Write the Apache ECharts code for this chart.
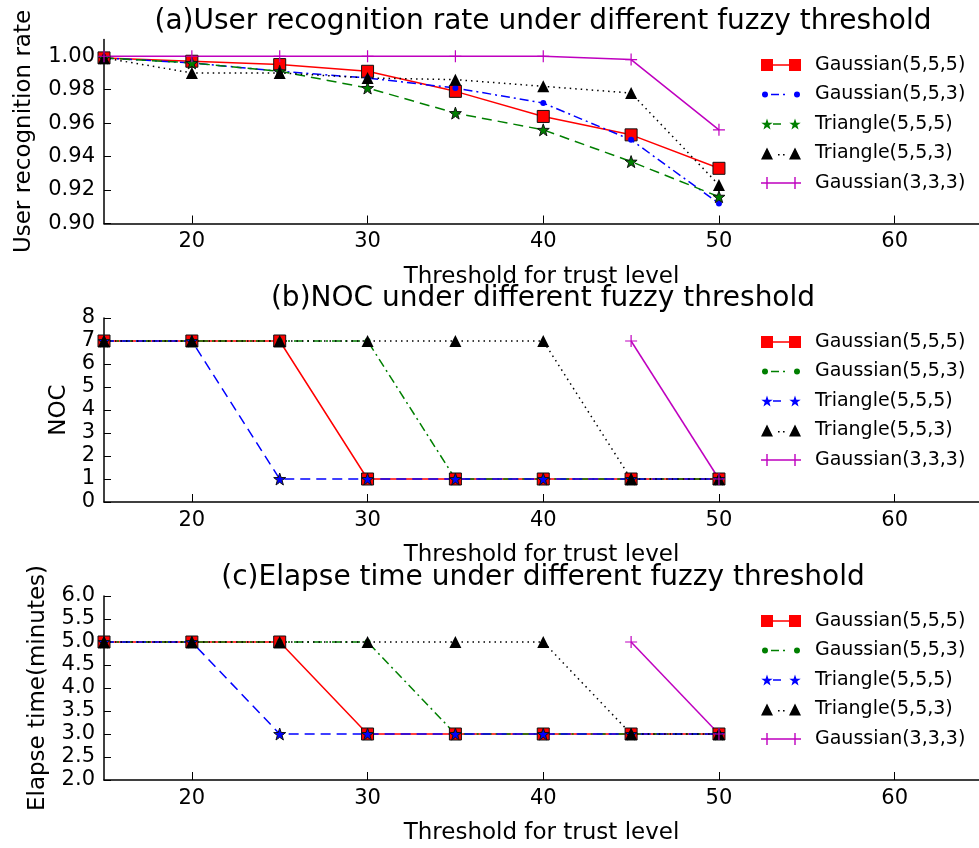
<!DOCTYPE html>
<html>
<head>
<meta charset="utf-8">
<title>Fuzzy threshold</title>
<script src="https://cdn.jsdelivr.net/npm/echarts@6/dist/echarts.min.js"></script>
<style>
  html, body { margin: 0; padding: 0; background: #fff; }
  #chart { width: 979px; height: 848px; }
</style>
</head>
<body>
<div id="chart"></div>
<script>
// x values shared by the three panels
const thresholds = [15, 20, 25, 30, 35, 40, 45, 50];
const xTicks = [20, 30, 40, 50, 60];

// (a) user recognition rate
const rateG555 = [0.999, 0.997, 0.995, 0.991, 0.979, 0.964, 0.953, 0.933];
const rateG553 = [0.999, 0.996, 0.991, 0.987, 0.981, 0.972, 0.950, 0.912];
const rateT555 = [0.999, 0.996, 0.991, 0.981, 0.966, 0.956, 0.937, 0.916];
const rateT553 = [0.999, 0.990, 0.990, 0.987, 0.986, 0.982, 0.978, 0.923];
const rateG333 = [1.000, 1.000, 1.000, 1.000, 1.000, 1.000, 0.998, 0.956];
const rateTicks = [0.90, 0.92, 0.94, 0.96, 0.98, 1.00];

// (b) NOC
const nocG555 = [7, 7, 7, 1, 1, 1, 1, 1];
const nocG553 = [7, 7, 7, 7, 1, 1, 1, 1];
const nocT555 = [7, 7, 1, 1, 1, 1, 1, 1];
const nocT553 = [7, 7, 7, 7, 7, 7, 1, 1];
const nocG333 = [null, null, null, null, null, null, 7, 1];

// (c) elapse time (minutes)
const timeG555 = [5, 5, 5, 3, 3, 3, 3, 3];
const timeG553 = [5, 5, 5, 5, 3, 3, 3, 3];
const timeT555 = [5, 5, 3, 3, 3, 3, 3, 3];
const timeT553 = [5, 5, 5, 5, 5, 5, 3, 3];
const timeG333 = [null, null, null, null, null, null, 5, 3];

const names = ['Gaussian(5,5,5)', 'Gaussian(5,5,3)', 'Triangle(5,5,5)', 'Triangle(5,5,3)', 'Gaussian(3,3,3)'];
const titles = [
  '(a)User recognition rate under different fuzzy threshold',
  '(b)NOC under different fuzzy threshold',
  '(c)Elapse time under different fuzzy threshold'
];

const FONT = 'DejaVu Sans';
const RED = '#ff0000', BLUE = '#0000ff', GREEN = '#007f00', BLACK = '#000000', MAGENTA = '#bf00bf';

function starPath(cx, cy, r) {
  let d = '';
  for (let k = 0; k < 10; k++) {
    const a = -Math.PI / 2 + k * Math.PI / 5;
    const rr = k % 2 ? r * 0.4 : r;
    d += (k ? 'L' : 'M') + (cx + rr * Math.cos(a)).toFixed(3) + ',' + (cy + rr * Math.sin(a)).toFixed(3);
  }
  return d + 'Z';
}

const STAR = 'path://' + starPath(0, 0, 6);
const PLUS = 'path://M-0.6,-6h1.2v5.4h5.4v1.2h-5.4v5.4h-1.2v-5.4h-5.4v-1.2h5.4z';

// legend icons: two markers joined by a bit of the line (matplotlib style)
const icSquare = 'path://M0,0h12v12h-12z M28,0h12v12h-12z M12,5.3h16v1.4h-16z M49,12';
const icDot = 'path://M0,0 M1,6a3,3 0 1,0 6,0a3,3 0 1,0 -6,0z M33,6a3,3 0 1,0 6,0a3,3 0 1,0 -6,0z M10,5.3h8v1.4h-8z M22,5.3h2v1.4h-2z M49,12';
const icStar = 'path://M0,0 ' + starPath(6, 6.6, 6) + ' ' + starPath(34, 6.6, 6) + ' M12,5.3h8v1.4h-8z M49,12';
const icTri = 'path://M0,12L6,0L12,12z M28,12L34,0L40,12z M17,6.5h1.6v1.6h-1.6z M22,6.5h1.6v1.6h-1.6z M49,12';
const icPlus = 'path://M0,5.3h40v1.4h-40z M5.3,0h1.4v12h-1.4z M33.3,0h1.4v12h-1.4z M49,12';

// panel layout
const gridTops = [39.5, 318, 596];
const gridH = 184;

function pts(ys) {
  return thresholds.map((x, i) => [x, ys[i]]).filter(p => p[1] !== null);
}

function line(name, ys, gi, color, dash, symbol, size, edge) {
  return {
    type: 'line', name, xAxisIndex: gi, yAxisIndex: gi,
    data: pts(ys),
    symbol, symbolSize: size, showSymbol: true, showAllSymbol: true,
    lineStyle: { color, width: 1.5, type: dash },
    itemStyle: { color, borderColor: edge ? '#111' : color, borderWidth: edge ? 1 : 0 },
    emphasis: { disabled: true },
    animation: false
  };
}

const DASH = [10, 6], DASHDOT = [9, 4, 2, 4], DOTTED = [1.5, 4];

const series = [
  line(names[0], rateG555, 0, RED, 'solid', 'rect', 12, true),
  line(names[1], rateG553, 0, BLUE, DASHDOT, 'circle', 6, false),
  line(names[2], rateT555, 0, GREEN, DASH, STAR, 12, true),
  line(names[3], rateT553, 0, BLACK, DOTTED, 'triangle', 12, false),
  line(names[4], rateG333, 0, MAGENTA, 'solid', PLUS, 12, false),

  line(names[0], nocG555, 1, RED, 'solid', 'rect', 12, true),
  line(names[1], nocG553, 1, GREEN, DASHDOT, 'circle', 6, false),
  line(names[2], nocT555, 1, BLUE, DASH, STAR, 12, true),
  line(names[3], nocT553, 1, BLACK, DOTTED, 'triangle', 12, false),
  line(names[4], nocG333, 1, MAGENTA, 'solid', PLUS, 12, false),

  line(names[0], timeG555, 2, RED, 'solid', 'rect', 12, true),
  line(names[1], timeG553, 2, GREEN, DASHDOT, 'circle', 6, false),
  line(names[2], timeT555, 2, BLUE, DASH, STAR, 12, true),
  line(names[3], timeT553, 2, BLACK, DOTTED, 'triangle', 12, false),
  line(names[4], timeG333, 2, MAGENTA, 'solid', PLUS, 12, false)
];

const axisLine = { show: true, onZero: false, lineStyle: { color: '#000', width: 1.5 } };

function xAxis(gi, nameGap) {
  return {
    type: 'value', gridIndex: gi, min: 15, max: 64.8,
    name: 'Threshold for trust level', nameLocation: 'middle', nameGap,
    nameTextStyle: { fontSize: 23, color: '#000', fontFamily: FONT },
    axisLine,
    axisTick: { show: true, inside: true, length: 8, customValues: xTicks, lineStyle: { color: '#000' } },
    axisLabel: { customValues: xTicks, fontSize: 21, color: '#000', fontFamily: FONT, margin: 8 },
    splitLine: { show: false }
  };
}

function yAxis(gi, name, nameGap, extra, fmt) {
  return Object.assign({
    type: 'value', gridIndex: gi,
    name, nameLocation: 'middle', nameRotate: 90, nameGap,
    nameTextStyle: { fontSize: 23, color: '#000', fontFamily: FONT },
    axisLine,
    axisTick: { show: true, inside: true, length: 7, lineStyle: { color: '#000' } },
    axisLabel: { fontSize: 21, color: '#000', fontFamily: FONT, margin: 9, formatter: fmt },
    splitLine: { show: false }
  }, extra);
}

const yA = yAxis(0, 'User recognition rate', 68, { min: 0.9, max: 1.01 }, v => v.toFixed(2));
yA.axisTick.customValues = rateTicks;
yA.axisLabel.customValues = rateTicks;

function legend(top, icons, colors) {
  return {
    orient: 'vertical', left: 761, top, padding: 0,
    itemWidth: 49, itemHeight: 12, itemGap: 9.5,
    selectedMode: false,
    itemStyle: { borderWidth: 0 },
    textStyle: { fontSize: 19, lineHeight: 20, color: '#000', fontFamily: FONT },
    data: names.map((n, i) => ({ name: n, icon: icons[i], itemStyle: { color: colors[i], borderWidth: 0 } }))
  };
}

const chart = echarts.init(document.getElementById('chart'), null, { renderer: 'canvas' });
chart.setOption({
  backgroundColor: '#fff',
  animation: false,
  textStyle: { fontFamily: FONT },
  title: titles.map((t, i) => ({
    text: t, left: 543, top: [8, 285, 564][i], textAlign: 'center', padding: 0,
    textStyle: { fontSize: 28, fontWeight: 'normal', color: '#000', fontFamily: FONT }
  })),
  legend: [
    legend(55, [icSquare, icDot, icStar, icTri, icPlus], [RED, BLUE, GREEN, BLACK, MAGENTA]),
    legend(332, [icSquare, icDot, icStar, icTri, icPlus], [RED, GREEN, BLUE, BLACK, MAGENTA]),
    legend(611, [icSquare, icDot, icStar, icTri, icPlus], [RED, GREEN, BLUE, BLACK, MAGENTA])
  ],
  grid: gridTops.map(t => ({ left: 104, right: 0, top: t, height: gridH, outerBoundsMode: 'none', containLabel: false })),
  xAxis: [xAxis(0, 42), xAxis(1, 42), xAxis(2, 42)],
  yAxis: [
    yA,
    yAxis(1, 'NOC', 32, { min: 0, max: 8, interval: 1 }),
    yAxis(2, 'Elapse time(minutes)', 54, { min: 2, max: 6, interval: 0.5 }, v => v.toFixed(1))
  ],
  series
});

window.addEventListener('resize', () => chart.resize());
</script>
</body>
</html>
